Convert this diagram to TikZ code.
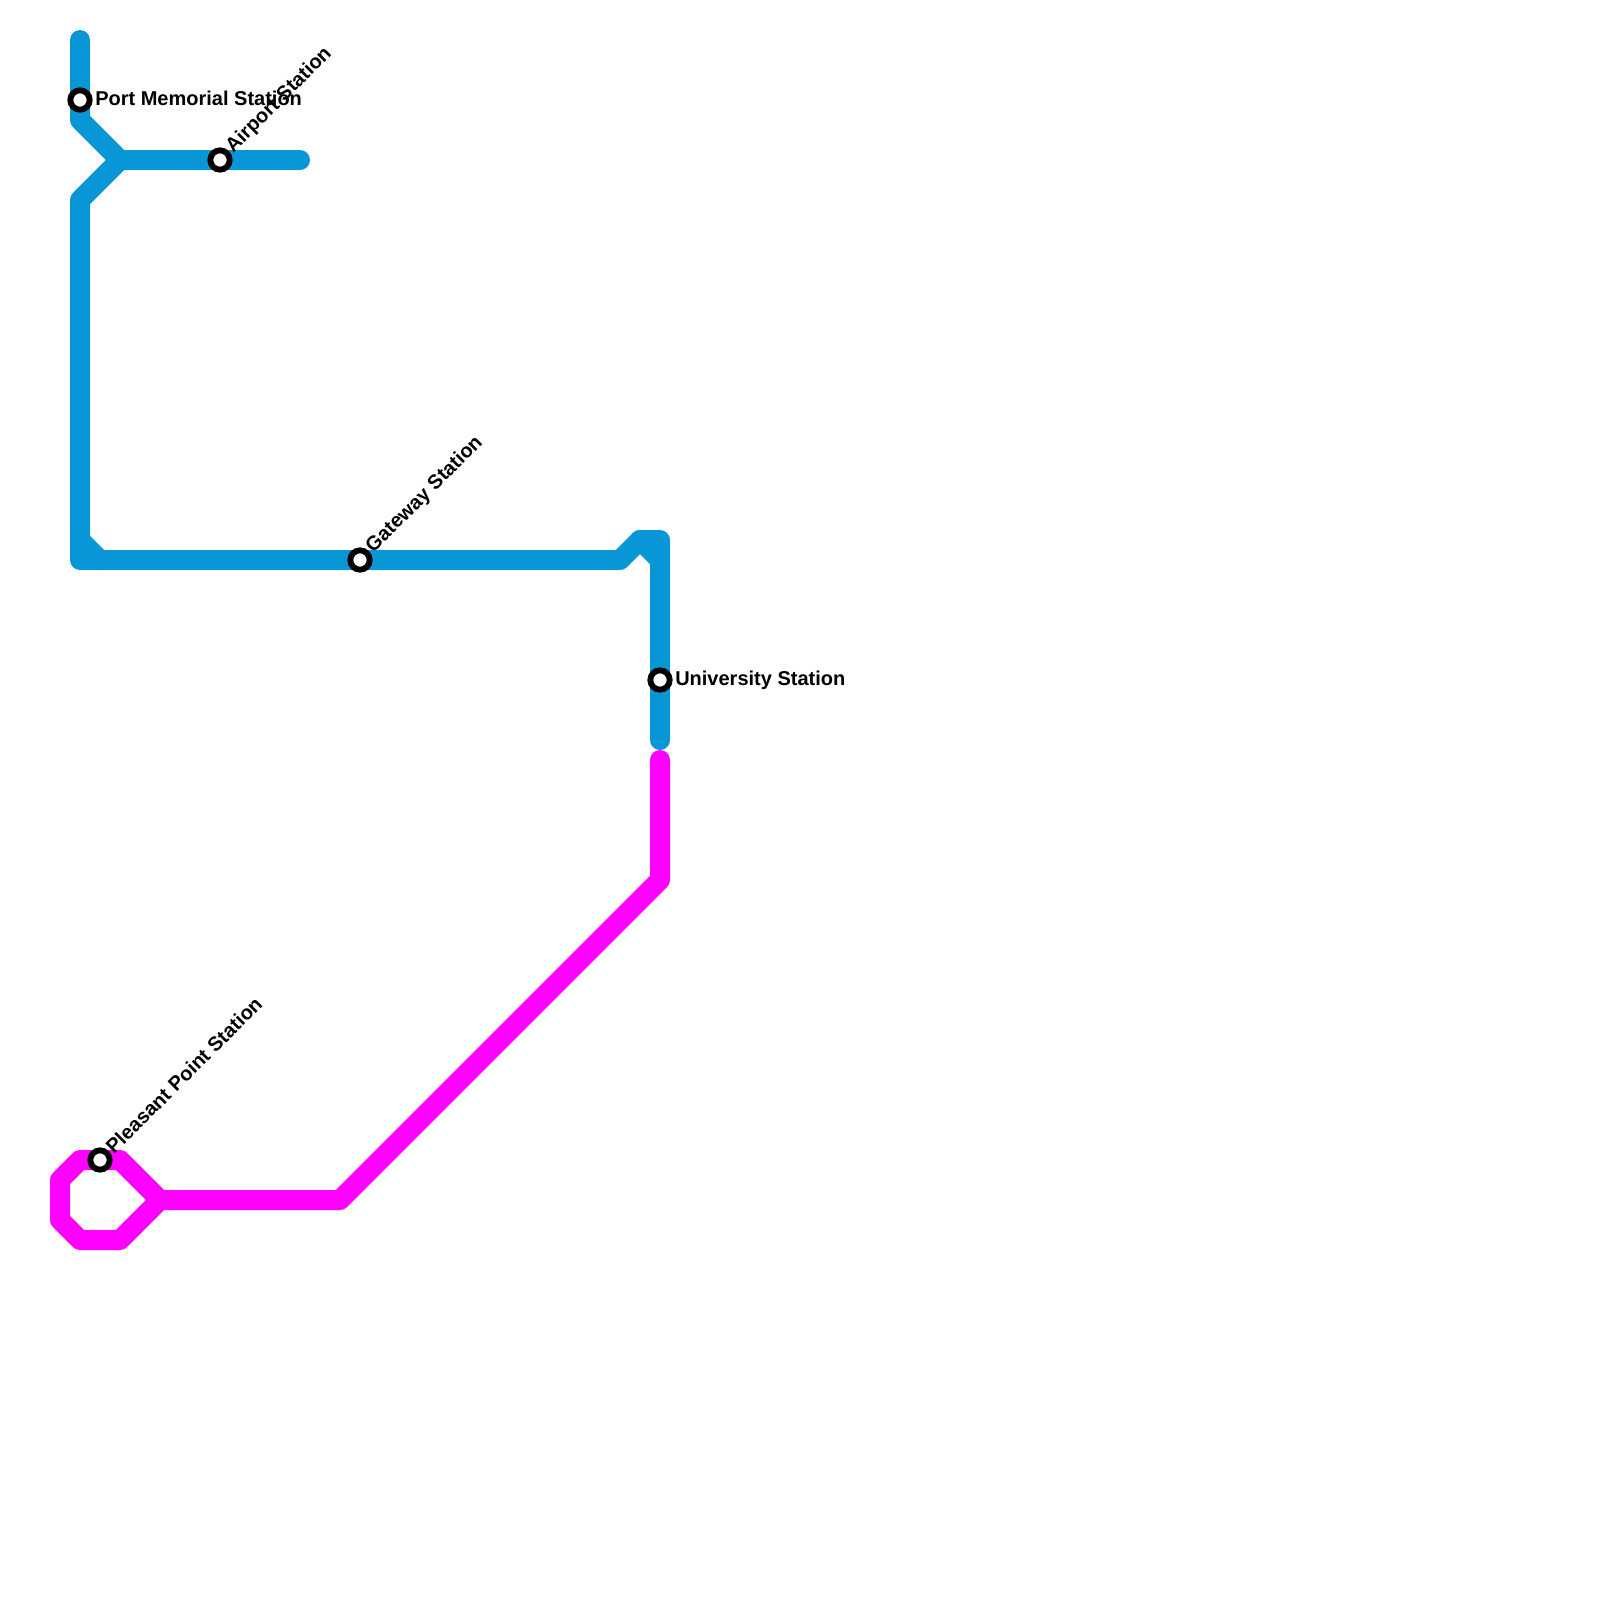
\documentclass[tikz,border=0pt]{standalone}
\usepackage{fontspec}
\setmainfont{Liberation Sans}
\definecolor{azulLinea}{HTML}{0896D7}
\definecolor{magentaLinea}{HTML}{FF00FF}
\begin{document}
\begin{tikzpicture}[x=0.75pt,y=-0.75pt,
    linea/.style={line width=15pt,line cap=round,line join=round},
    estacion/.style={circle,draw=black,fill=white,line width=4.4pt,minimum size=14.5pt,inner sep=0pt},
    rotulo/.style={font=\bfseries\fontsize{15pt}{17pt}\selectfont,text=black,inner sep=0pt,anchor=west},
    every node/.style={align=center}]
    \useasboundingbox (0,0) rectangle (1600,1600);
    % linea azul
    \draw[linea,azulLinea] (80,40) -- (80,120) -- (120,160) -- (300,160);
    \draw[linea,azulLinea] (120,160) -- (80,200) -- (80,560) -- (620,560) -- (640,540) -- (660,540) -- (660,740);
    \draw[linea,azulLinea] (80,540) -- (100,560);
    \draw[linea,azulLinea] (640,540) -- (660,560);
    % linea magenta
    \draw[linea,magentaLinea] (660,760) -- (660,880) -- (340,1200) -- (160,1200) -- (120,1160) -- (80,1160) -- (60,1180)
      -- (60,1220) -- (80,1240) -- (120,1240) -- (160,1200);
    % estaciones
    \node[estacion] (portMemorial) at (80,100) {};
    \node[estacion] (airport) at (220,160) {};
    \node[estacion] (gateway) at (360,560) {};
    \node[estacion] (university) at (660,680) {};
    \node[estacion] (pleasantPoint) at (100,1160) {};
    % rotulos
    \node[rotulo] at (95,98.5) {Port Memorial Station};
    \node[rotulo] at (675,680) {University Station};
    \node[rotulo,rotate=45] at (229.5,150) {Airport Station};
    \node[rotulo,rotate=45] at (369.5,550) {Gateway Station};
    \node[rotulo,rotate=45] at (109,1150) {Pleasant Point Station};
  \end{tikzpicture}
\end{document}
